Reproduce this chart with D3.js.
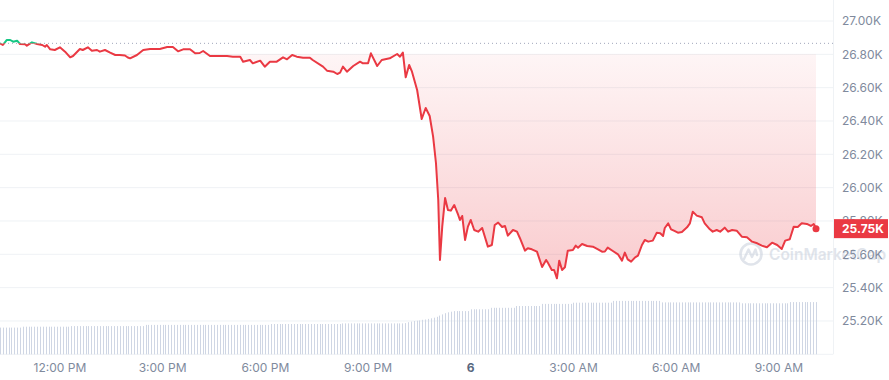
<!DOCTYPE html>
<meta charset="utf-8">
<style>
    body { margin: 0; background: #fff; }
    .container { width: 889px; height: 380px; }
    text { font-family: Inter, "Noto Sans", sans-serif; }
</style>
<body>
<div class="container"></div>
<script src="https://cdn.jsdelivr.net/npm/d3@7"></script>
<script>

// price readings: [minutes after 10:15 AM Jun 5, price USD]
const pricePoints = [
    [0, 26866], [5, 26856], [12, 26886], [18, 26886], [23, 26876], [30, 26882], [35, 26862], [44, 26860],
    [47, 26852], [56, 26872], [65, 26862], [74, 26856], [79, 26846], [82, 26856], [88, 26830], [96, 26826],
    [105, 26842], [114, 26816], [123, 26782], [128, 26790], [140, 26832], [145, 26826], [154, 26842], [161, 26822],
    [170, 26826], [175, 26816], [184, 26826], [193, 26810], [202, 26796], [210, 26796], [219, 26793], [224, 26781],
    [228, 26776], [240, 26796], [251, 26826], [263, 26832], [280, 26832], [293, 26844], [303, 26844], [312, 26818],
    [321, 26830], [333, 26830], [342, 26806], [350, 26808], [356, 26820], [368, 26790], [398, 26790], [408, 26786],
    [421, 26786], [426, 26756], [438, 26766], [443, 26746], [456, 26762], [464, 26726], [473, 26756], [485, 26756],
    [496, 26782], [503, 26770], [512, 26796], [520, 26786], [531, 26780], [543, 26780], [548, 26766], [566, 26726],
    [573, 26702], [584, 26696], [591, 26682], [596, 26690], [601, 26726], [608, 26696], [619, 26730], [631, 26756],
    [636, 26746], [645, 26746], [650, 26806], [661, 26730], [669, 26766], [683, 26776], [696, 26802], [701, 26786],
    [706, 26810], [711, 26662], [717, 26736], [722, 26696], [731, 26586], [739, 26412], [746, 26478], [753, 26430],
    [759, 26306], [764, 26148], [768, 25926], [771, 25566], [775, 25766], [780, 25938], [785, 25866], [790, 25862],
    [796, 25896], [803, 25836], [806, 25806], [810, 25830], [815, 25686], [820, 25766], [825, 25806], [831, 25746],
    [838, 25736], [845, 25758], [855, 25646], [862, 25656], [867, 25776], [873, 25790], [880, 25764], [885, 25770],
    [890, 25712], [899, 25746], [906, 25736], [911, 25698], [920, 25622], [925, 25636], [932, 25630], [941, 25616],
    [950, 25524], [957, 25566], [960, 25550], [967, 25506], [971, 25506], [976, 25456], [980, 25562], [985, 25506],
    [990, 25522], [995, 25622], [1004, 25626], [1009, 25652], [1013, 25640], [1020, 25662], [1029, 25650], [1039, 25646],
    [1048, 25630], [1055, 25616], [1060, 25617], [1065, 25640], [1074, 25620], [1083, 25600], [1090, 25562], [1095, 25610],
    [1100, 25570], [1106, 25556], [1113, 25582], [1118, 25592], [1125, 25656], [1130, 25686], [1136, 25676], [1144, 25682],
    [1151, 25730], [1157, 25726], [1162, 25710], [1165, 25758], [1171, 25786], [1176, 25750], [1181, 25742], [1188, 25730],
    [1195, 25734], [1204, 25762], [1209, 25786], [1214, 25856], [1221, 25832], [1230, 25822], [1235, 25786], [1244, 25750],
    [1249, 25736], [1256, 25746], [1262, 25736], [1270, 25760], [1276, 25736], [1283, 25746], [1291, 25742], [1300, 25706],
    [1309, 25702], [1318, 25676], [1327, 25666], [1335, 25652], [1344, 25642], [1353, 25670], [1362, 25656], [1370, 25632],
    [1376, 25682], [1384, 25690], [1391, 25766], [1398, 25764], [1405, 25786], [1414, 25782], [1421, 25770], [1426, 25782],
    [1430, 25754]
];

const openPrice = 26866;

// 24h volume (USD bn), one bar every 5 minutes, as [value, number of bars]
const volumeRuns = [
    [8.9, 8], [9.2, 17], [9.4, 26], [9.8, 44], [10.1, 25], [10.3, 22],
    [10.4, 1], [10.7, 1], [10.9, 1], [11.1, 1], [11.2, 1], [11.3, 1], [11.5, 1], [11.6, 1], [11.8, 1],
    [12.0, 1], [12.2, 1], [12.5, 1], [12.9, 1], [13.3, 1], [13.7, 1], [14.0, 1], [14.2, 1],
    [14.4, 6], [15.0, 7], [15.5, 9], [16.1, 9], [16.8, 11], [17.2, 14], [17.8, 17], [17.3, 28], [17.0, 17], [17.4, 10]
];

const yTicks = [25200, 25400, 25600, 25800, 26000, 26200, 26400, 26600, 26800, 27000];
const xTickHours = [12, 15, 18, 21, 24, 27, 30, 33]; // hours after midnight Jun 5

const start = new Date(2023, 5, 5, 10, 15);
const minutes = m => new Date(start.getTime() + m * 60000);

const prices = pricePoints.map(d => ({ t: minutes(d[0]), p: d[1] }));
const volumes = [];
volumeRuns.forEach(r => { for (let k = 0; k < r[1]; k++) volumes.push(r[0]); });
const volData = volumes.map((v, i) => ({ t: minutes(i * 5), v: v }));

const width = 889;
const height = 380;
const plotRight = 833;
const plotBottom = 354.3;

const svg = d3.select('.container')
    .append('svg')
    .attr('width', width)
    .attr('height', height)
    .attr('viewBox', `0 0 ${width} ${height}`);

const x = d3.scaleTime()
    .domain([prices[0].t, prices[prices.length - 1].t])
    .range([0, 816]);

const y = d3.scaleLinear()
    .domain([25000, 27000])
    .range([plotBottom, 21]);

const yVol = d3.scaleLinear()
    .domain([0, 20])
    .range([plotBottom, plotBottom - 60]);

const yBase = y(openPrice);

const defs = svg.append('defs');

defs.append('clipPath').attr('id', 'above')
    .append('rect').attr('x', 0).attr('y', 0).attr('width', width).attr('height', yBase);
defs.append('clipPath').attr('id', 'below')
    .append('rect').attr('x', 0).attr('y', yBase).attr('width', width).attr('height', height);

const redGrad = defs.append('linearGradient')
    .attr('id', 'redFill')
    .attr('gradientUnits', 'userSpaceOnUse')
    .attr('x1', 0).attr('y1', yBase).attr('x2', 0).attr('y2', plotBottom);
[[0, 0], [0.035, 0], [0.036, 0.05], [0.75, 0.26], [1, 0.3]].forEach(s => {
    redGrad.append('stop').attr('offset', s[0]).attr('stop-color', '#ea3943').attr('stop-opacity', s[1]);
});

const greenGrad = defs.append('linearGradient')
    .attr('id', 'greenFill')
    .attr('gradientUnits', 'userSpaceOnUse')
    .attr('x1', 0).attr('y1', yBase).attr('x2', 0).attr('y2', 0);
greenGrad.append('stop').attr('offset', 0).attr('stop-color', '#16c784').attr('stop-opacity', 0);
greenGrad.append('stop').attr('offset', 1).attr('stop-color', '#16c784').attr('stop-opacity', 0.15);

// grid
svg.append('g')
    .selectAll('line')
    .data(yTicks)
    .enter()
    .append('line')
    .attr('x1', 0).attr('x2', plotRight)
    .attr('y1', d => y(d)).attr('y2', d => y(d))
    .style('stroke', '#eff2f5')
    .style('stroke-width', 1);

svg.append('line')
    .attr('x1', 0).attr('x2', plotRight)
    .attr('y1', plotBottom).attr('y2', plotBottom)
    .style('stroke', '#eff2f5');

svg.append('line')
    .attr('x1', plotRight + 0.5).attr('x2', plotRight + 0.5)
    .attr('y1', 0).attr('y2', plotBottom)
    .style('stroke', '#eff2f5');

// volume
svg.append('g')
    .selectAll('line')
    .data(volData)
    .enter()
    .append('line')
    .attr('x1', d => Math.round(x(d.t)) + 0.5)
    .attr('x2', d => Math.round(x(d.t)) + 0.5)
    .attr('y1', plotBottom)
    .attr('y2', d => yVol(d.v))
    .style('stroke', '#cfd6e4')
    .style('stroke-width', 1);

// watermark
const mark = svg.append('g').style('opacity', 0.55);
mark.append('circle')
    .attr('cx', 751).attr('cy', 254).attr('r', 10.5)
    .style('fill', 'none').style('stroke', '#c8cfdb').style('stroke-width', 2.6);
mark.append('path')
    .attr('d', 'M744,259 L748.5,249.5 L752,257 L755.5,249.5 L757,255')
    .style('fill', 'none').style('stroke', '#c8cfdb').style('stroke-width', 2.4)
    .style('stroke-linejoin', 'round').style('stroke-linecap', 'round');
mark.append('text')
    .attr('x', 769).attr('y', 260)
    .style('font-size', '15.5px')
    .style('font-weight', 600)
    .style('fill', '#c8cfdb')
    .text('CoinMarketCap');

// area + line
const area = d3.area()
    .x(d => x(d.t))
    .y0(yBase)
    .y1(d => y(d.p));

const line = d3.line()
    .x(d => x(d.t))
    .y(d => y(d.p));

svg.append('path').datum(prices)
    .attr('d', area)
    .attr('clip-path', 'url(#below)')
    .style('fill', 'url(#redFill)');

svg.append('path').datum(prices)
    .attr('d', area)
    .attr('clip-path', 'url(#above)')
    .style('fill', 'url(#greenFill)');

// open price reference
svg.append('line')
    .attr('x1', 0).attr('x2', plotRight)
    .attr('y1', yBase).attr('y2', yBase)
    .style('stroke', '#a1a7bb')
    .style('stroke-width', 1)
    .style('stroke-dasharray', '1,3');

svg.append('path').datum(prices)
    .attr('d', line)
    .attr('clip-path', 'url(#below)')
    .style('fill', 'none')
    .style('stroke', '#ea3943')
    .style('stroke-width', 2)
    .style('stroke-linejoin', 'round');

svg.append('path').datum(prices)
    .attr('d', line)
    .attr('clip-path', 'url(#above)')
    .style('fill', 'none')
    .style('stroke', '#16c784')
    .style('stroke-width', 2)
    .style('stroke-linejoin', 'round');

const last = prices[prices.length - 1];
svg.append('circle')
    .attr('cx', x(last.t)).attr('cy', y(last.p)).attr('r', 3.5)
    .style('fill', '#ea3943');

// y axis labels
svg.append('g')
    .selectAll('text')
    .data(yTicks)
    .enter()
    .append('text')
    .attr('x', 842)
    .attr('y', d => y(d))
    .attr('dy', '0.35em')
    .style('font-size', '12px')
    .style('fill', '#808a9d')
    .text(d => (d / 1000).toFixed(2) + 'K');

// current price tag
svg.append('rect')
    .attr('x', plotRight + 1).attr('y', y(last.p) - 9.5)
    .attr('width', 54).attr('height', 19)
    .style('fill', '#ea3943');
svg.append('text')
    .attr('x', 842).attr('y', y(last.p))
    .attr('dy', '0.35em')
    .style('font-size', '12px')
    .style('font-weight', 700)
    .style('fill', '#fff')
    .text((last.p / 1000).toFixed(2) + 'K');

// x axis labels
const fmt = d3.timeFormat('%-I:%M %p');
svg.append('g')
    .selectAll('text')
    .data(xTickHours.map(h => new Date(2023, 5, 5, h)))
    .enter()
    .append('text')
    .attr('x', d => x(d))
    .attr('y', 368)
    .attr('dy', '0.35em')
    .attr('text-anchor', 'middle')
    .style('font-size', '12px')
    .style('font-weight', d => d.getHours() === 0 ? 700 : 400)
    .style('fill', d => d.getHours() === 0 ? '#58667e' : '#808a9d')
    .text(d => d.getHours() === 0 ? d3.timeFormat('%-d')(d) : fmt(d));

</script>
</body>
